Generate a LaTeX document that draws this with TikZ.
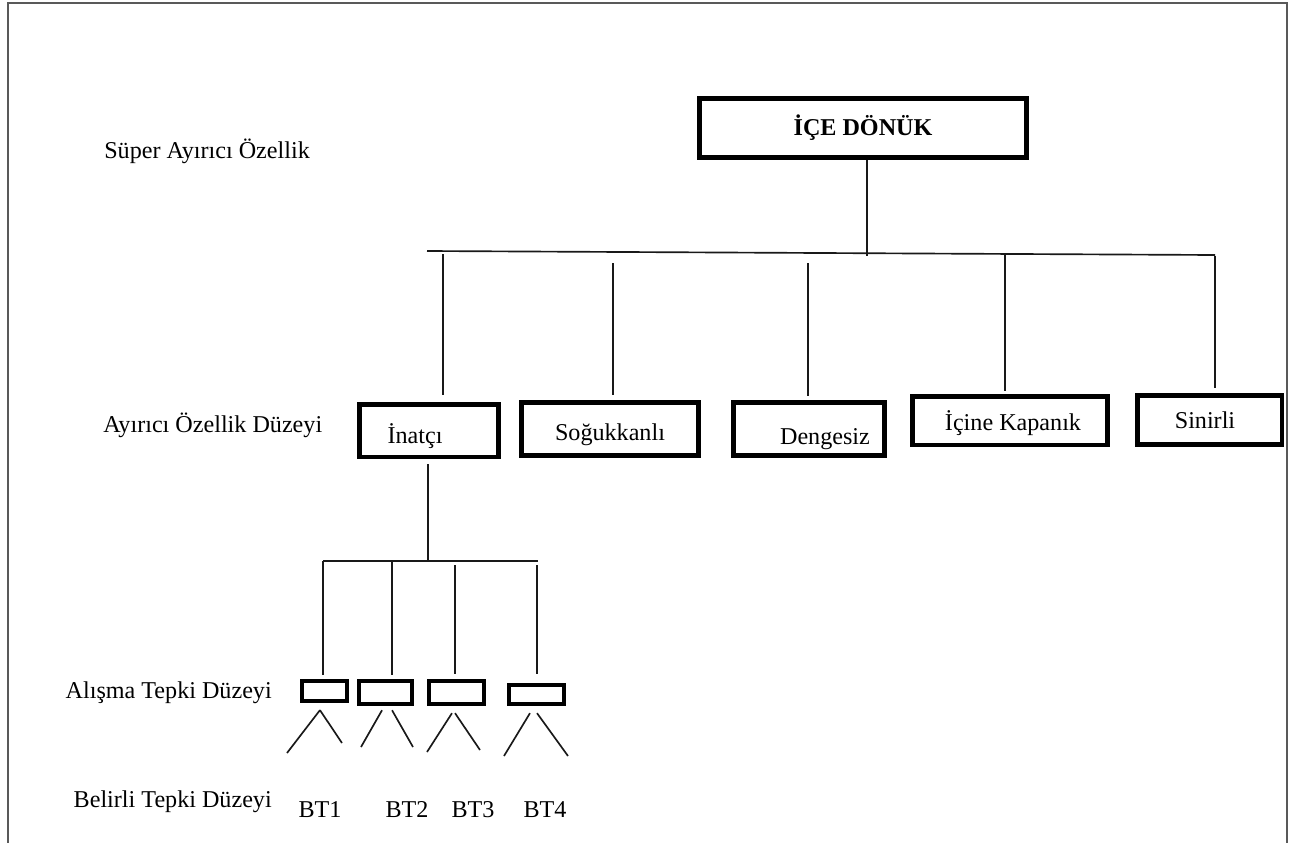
\documentclass[tikz,border=0pt]{standalone}
\usepackage{fontspec}
\setmainfont{Liberation Serif}
\newcommand{\diafont}{\fontsize{18.1}{21}\selectfont}
\tikzset{
  lvbox/.style={draw, line width=3.4pt, inner sep=0pt, text height=24pt, font=\diafont},
  sbox/.style={draw, line width=3.3pt, inner sep=0pt},
  conn/.style={line width=1.25pt, black!90},
  lbl/.style={inner sep=0pt, font=\diafont},
  frame/.style={line width=1.2pt, black!65}
}
\begin{document}
\begin{tikzpicture}[x=0.75pt,y=-0.75pt]
\useasboundingbox (0,0) rectangle (1297,843);
% frame
\draw[frame] (8,843) -- (8,3) -- (1287,3) -- (1287,843);
% level labels
\node[lbl, anchor=base west] (l1) at (104,158) {Süper Ayırıcı Özellik};
\node[lbl, anchor=base west] (l2) at (103,432) {Ayırıcı Özellik Düzeyi};
\node[lbl, anchor=base east] (l3) at (272,698) {Alışma Tepki Düzeyi};
\node[lbl, anchor=base east] (l4) at (272,807) {Belirli Tepki Düzeyi};
% top box
\node[lvbox, minimum width=245.6pt, minimum height=44.6pt, text depth=13.5pt, font=\bfseries\diafont] (top) at (863,128) {İÇE DÖNÜK};
% second level boxes
\node[lvbox, minimum width=104.6pt, minimum height=39.4pt, text depth=5.25pt] (inatci) at (429,430.5) {İnatçı\hspace*{21pt}};
\node[lvbox, minimum width=133.1pt, minimum height=40.1pt, text depth=7.5pt] (soguk) at (610,429) {Soğukkanlı};
\node[lvbox, minimum width=113.6pt, minimum height=40.1pt, text depth=1.5pt] (denge) at (809,429) {\hspace*{24pt}Dengesiz};
\node[lvbox, minimum width=146.6pt, minimum height=36.4pt, text depth=9.75pt] (icine) at (1010,420.5) {\hspace*{4.5pt}İçine Kapanık};
\node[lvbox, minimum width=108.4pt, minimum height=37.1pt, text depth=12pt] (sinir) at (1209.5,420) {Sinirli\hspace*{6.75pt}};
% small boxes
\node[sbox, minimum width=33.4pt, minimum height=14.6pt] (s1) at (324.5,691) {};
\node[sbox, minimum width=39.4pt, minimum height=16.9pt] (s2) at (385.5,692.5) {};
\node[sbox, minimum width=40.9pt, minimum height=16.9pt] (s3) at (456.5,692.5) {};
\node[sbox, minimum width=40.9pt, minimum height=13.9pt] (s4) at (536.5,694.5) {};
% BT labels
\node[lbl, anchor=base] (bt1) at (320,817) {BT1};
\node[lbl, anchor=base] (bt2) at (407,817) {BT2};
\node[lbl, anchor=base] (bt3) at (473,817) {BT3};
\node[lbl, anchor=base] (bt4) at (545,817) {BT4};
% upper tree
\coordinate (hL) at (427,251);
\coordinate (hR) at (1215,255);
\coordinate (j0) at (867,256);
\draw[conn] (hL) -- (hR);
\draw[conn] (top.south -| j0) -- (j0);
\coordinate (d1) at (443,254);
\coordinate (d2) at (613,263);
\coordinate (d3) at (808,263);
\coordinate (d4) at (1005,253);
\coordinate (d5) at (1215,256);
\draw[conn, shorten >=5.4pt] (d1) -- (d1 |- inatci.north);
\draw[conn, shorten >=3.9pt] (d2) -- (d2 |- soguk.north);
\draw[conn, shorten >=3.2pt] (d3) -- (d3 |- denge.north);
\draw[conn, shorten >=2.4pt] (d4) -- (d4 |- icine.north);
\draw[conn, shorten >=3.9pt] (d5) -- (d5 |- sinir.north);
% lower tree
\coordinate (j1) at (428,561);
\coordinate (hL2) at (323,561);
\coordinate (hR2) at (538,561);
\draw[conn, shorten <=3.9pt] (inatci.south -| j1) -- (j1);
\draw[conn] (hL2) -- (hR2);
\coordinate (v2) at (392,561);
\coordinate (v3) at (455,565);
\coordinate (v4) at (537,565);
\draw[conn, shorten >=3.2pt] (hL2) -- (hL2 |- s1.north);
\draw[conn, shorten >=3.2pt] (v2) -- (v2 |- s2.north);
\draw[conn, shorten >=3.9pt] (v3) -- (v3 |- s3.north);
\draw[conn, shorten >=6.9pt] (v4) -- (v4 |- s4.north);
% legs
\coordinate (e1a) at (287,753);
\coordinate (e1b) at (342,743);
\coordinate (e2a) at (361,747);
\coordinate (e2b) at (413,747);
\coordinate (e3a) at (427,752);
\coordinate (e3b) at (480,750);
\coordinate (e4a) at (504,756);
\coordinate (e4b) at (568,756);
\draw[conn] ([xshift=-3.4pt,yshift=-5.4pt]s1.south) -- (e1a);
\draw[conn] ([xshift=-3.4pt,yshift=-5.4pt]s1.south) -- (e1b);
\draw[conn] ([xshift=-2.6pt,yshift=-3.2pt]s2.south) -- (e2a);
\draw[conn] ([xshift=4.9pt,yshift=-3.2pt]s2.south) -- (e2b);
\draw[conn] ([xshift=-3.4pt,yshift=-5.4pt]s3.south) -- (e3a);
\draw[conn] ([xshift=-1.1pt,yshift=-5.4pt]s3.south) -- (e3b);
\draw[conn] ([xshift=-4.9pt,yshift=-5.4pt]s4.south) -- (e4a);
\draw[conn] ([xshift=0.4pt,yshift=-5.4pt]s4.south) -- (e4b);
\end{tikzpicture}
\end{document}
